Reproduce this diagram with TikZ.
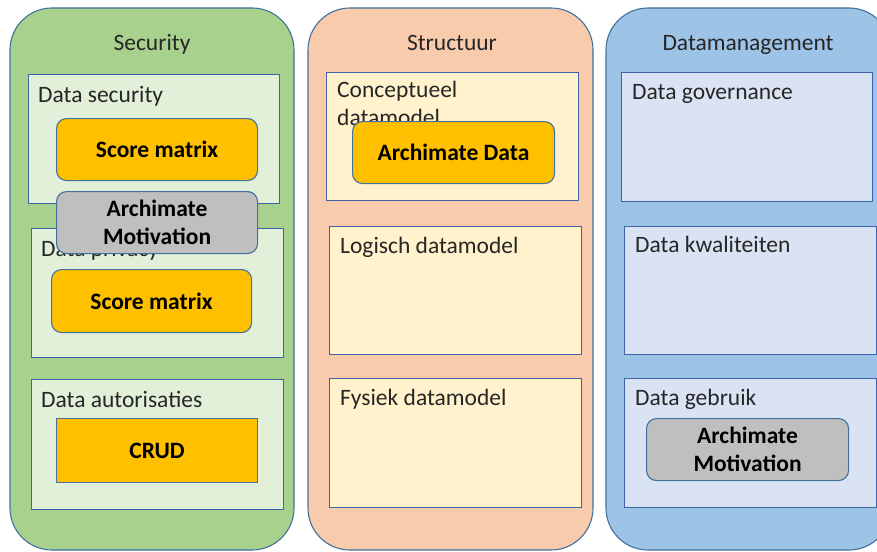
\documentclass[tikz,border=0pt]{standalone}
\usepackage{fontspec}
\setmainfont{Carlito}
\definecolor{bordc}{HTML}{41719C}
\definecolor{innc}{HTML}{3E64A8}
\definecolor{gout}{HTML}{A9D18E}
\definecolor{gin}{HTML}{E2F0D9}
\definecolor{oout}{HTML}{F8CBAD}
\definecolor{oin}{HTML}{FFF2CC}
\definecolor{bout}{HTML}{9DC3E6}
\definecolor{bin}{HTML}{DAE3F3}
\definecolor{gold}{HTML}{FFC000}
\definecolor{grayb}{HTML}{BFBFBF}
\definecolor{txtc}{HTML}{262626}
\newcommand{\fsz}{\fontsize{23.5}{28}\selectfont}
\begin{document}
\begin{tikzpicture}[x=1pt,y=-1pt,
  outerbox/.style={draw=bordc, line width=1.1pt, rounded corners=42pt},
  innerbox/.style={draw=innc, line width=1.1pt, inner sep=0pt, anchor=north west},
  toolbox/.style={draw=bordc, line width=1.1pt, rounded corners=10pt, inner sep=0pt, anchor=north west, fill=gold, font=\fsz\bfseries, align=center, text=black},
  lbl/.style={anchor=base west, inner sep=0pt, font=\fsz, text=txtc},
  ttl/.style={anchor=base, inner sep=0pt, font=\fsz, text=txtc}]
\useasboundingbox (0,0) rectangle (877,551);
\clip (0,0) rectangle (877,551);
% columns
\draw[outerbox, fill=gout] (10,8) rectangle (294,550);
\draw[outerbox, fill=oout] (308,8) rectangle (593,550);
\draw[outerbox, fill=bout] (606,8) rectangle (891,550);
\node[ttl] (tsec) at (152,51) {Security};
\node[ttl] (tstr) at (452,51) {Structuur};
\node[ttl] (tdm) at (748,51) {Datamanagement};
% Security column
\node[innerbox, fill=gin, minimum width=251, minimum height=129] (ds) at (28,74) {};
\node[lbl] (lds) at (38,102) {Data security};
\node[innerbox, fill=gin, minimum width=252, minimum height=129] (dp) at (31,228) {};
\node[lbl] (ldp) at (41,256) {Data privacy};
\node[innerbox, fill=gin, minimum width=252, minimum height=130] (da) at (31,379) {};
\node[lbl] (lda) at (41,407) {Data autorisaties};
\node[toolbox, minimum width=201, minimum height=62] (sm1) at (56,118) {Score matrix};
\node[toolbox, minimum width=200, minimum height=63] (sm2) at (51,269) {Score matrix};
\node[toolbox, rounded corners=0pt, minimum width=201, minimum height=64] (crud) at (56,418) {CRUD};
\node[toolbox, fill=grayb, minimum width=201, minimum height=62] (am1) at (56,191) {Archimate\\Motivation};
% Structuur column
\node[innerbox, fill=oin, minimum width=252, minimum height=128] (cd) at (326,72) {};
\node[lbl, align=left, anchor=north west] (lcd) at (337,81) {Conceptueel\\datamodel};
\node[innerbox, fill=oin, minimum width=252, minimum height=128] (ld) at (329,226) {};
\node[lbl] (lld) at (340,253) {Logisch datamodel};
\node[innerbox, fill=oin, minimum width=252, minimum height=129] (fd) at (329,378) {};
\node[lbl] (lfd) at (340,405) {Fysiek datamodel};
\node[toolbox, minimum width=202, minimum height=62] (ad) at (352,121) {Archimate Data};
% Datamanagement column
\node[innerbox, fill=bin, minimum width=251, minimum height=129] (dg) at (621,72) {};
\node[lbl] (ldg) at (632,99) {Data governance};
\node[innerbox, fill=bin, minimum width=252, minimum height=128] (dk) at (624,226) {};
\node[lbl] (ldk) at (635,252) {Data kwaliteiten};
\node[innerbox, fill=bin, minimum width=252, minimum height=129] (dgb) at (624,378) {};
\node[lbl] (ldgb) at (635,405) {Data gebruik};
\node[toolbox, fill=grayb, minimum width=202, minimum height=62] (am2) at (646,418) {Archimate\\Motivation};
\end{tikzpicture}
\end{document}
